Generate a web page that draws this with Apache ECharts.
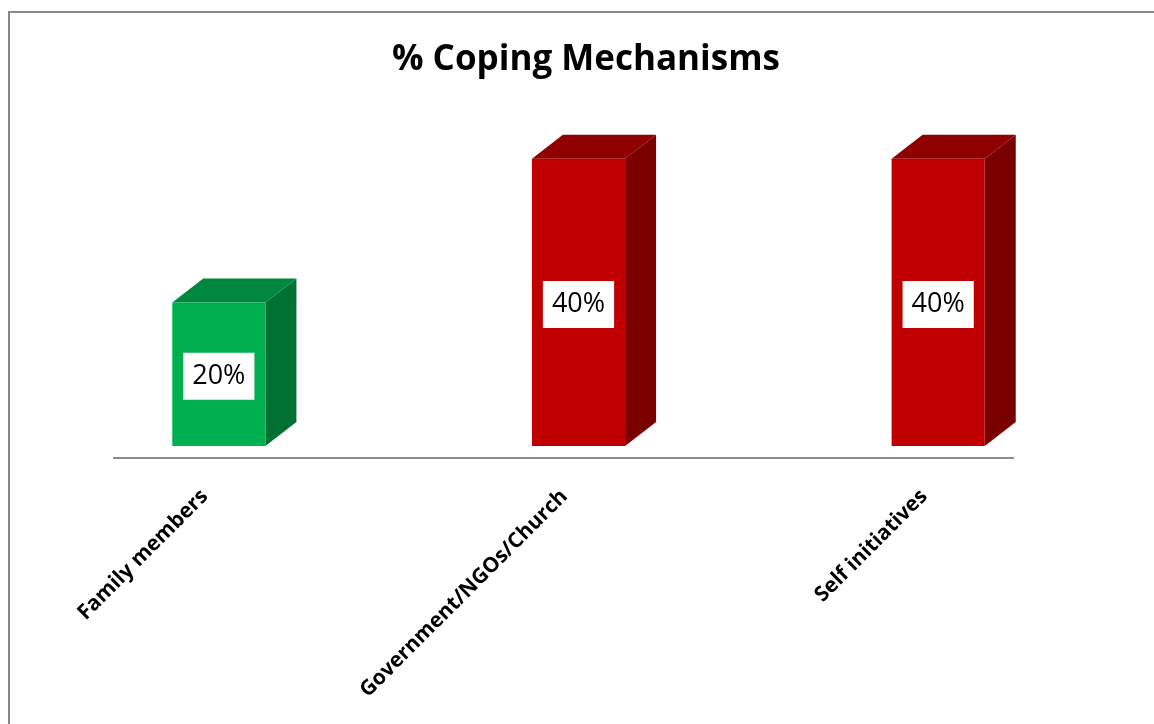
<!DOCTYPE html>
<html>
<head>
<meta charset="utf-8">
<script src="https://cdn.jsdelivr.net/npm/echarts@6/dist/echarts.min.js"></script>
<style>
  html, body { margin: 0; padding: 0; background: #fff; }
  #chart { width: 1154px; height: 724px; }
</style>
</head>
<body>
<div id="chart"></div>
<script>
// categories and values (%)
const categories = ['Family members', 'Government/NGOs/Church', 'Self initiatives'];
const values = [20, 40, 40];
const labels = ['20%', '40%', '40%'];

// front / top / side shades for each bar
const barColors = [
  { front: '#00B050', top: '#00893E', side: '#007033' },
  { front: '#C00000', top: '#900000', side: '#7A0000' },
  { front: '#C00000', top: '#900000', side: '#7A0000' }
];

const depthX = 31;
const depthY = 24;

let myChart = echarts.init(document.getElementById('chart'));

let option = {
  backgroundColor: '#fff',
  animation: false,
  title: {
    text: '% Coping Mechanisms',
    left: 387,
    top: 38,
    textStyle: {
      fontFamily: 'Open Sans',
      fontWeight: 'bold',
      fontSize: 35,
      color: '#000'
    }
  },
  grid: {
    left: 39,
    right: 36,
    top: 87,
    bottom: 278
  },
  xAxis: {
    type: 'category',
    data: categories,
    axisLine: { show: false },
    axisTick: { show: false },
    axisLabel: {
      rotate: 45,
      interval: 0,
      margin: 33,
      padding: [0, 20, 0, 0],
      fontFamily: 'Open Sans',
      fontWeight: 'bold',
      fontSize: 21,
      color: '#000'
    }
  },
  yAxis: {
    type: 'value',
    min: 0,
    max: 50,
    show: false,
    splitLine: { show: false }
  },
  graphic: [
    {
      type: 'rect',
      shape: { x: 9, y: 12, width: 1300, height: 900 },
      style: { fill: 'none', stroke: '#878787', lineWidth: 2 },
      silent: true
    },
    {
      type: 'line',
      shape: { x1: 113, y1: 458, x2: 1014, y2: 458 },
      style: { stroke: '#8c8c8c', lineWidth: 2 },
      silent: true
    }
  ],
  series: [
    {
      type: 'custom',
      data: values.map((v, i) => [i, v]),
      renderItem: function (params, api) {
        let idx = api.value(0);
        let base = api.coord([idx, 0]);
        let top = api.coord([idx, api.value(1)]);
        let w = api.size([1, 0])[0] * 0.259;
        let x0 = base[0] - w / 2;
        let x1 = base[0] + w / 2;
        let yb = base[1];
        let yt = top[1];
        let c = barColors[params.dataIndex];
        return {
          type: 'group',
          children: [
            {
              type: 'polygon',
              shape: { points: [[x1, yt], [x1 + depthX, yt - depthY], [x1 + depthX, yb - depthY], [x1, yb]] },
              style: { fill: c.side }
            },
            {
              type: 'polygon',
              shape: { points: [[x0, yt], [x0 + depthX, yt - depthY], [x1 + depthX, yt - depthY], [x1, yt]] },
              style: { fill: c.top }
            },
            {
              type: 'rect',
              shape: { x: x0, y: yt, width: w, height: yb - yt },
              style: { fill: c.front }
            },
            {
              type: 'text',
              x: (x0 + x1) / 2,
              y: (yt + yb) / 2 + 2,
              style: {
                text: labels[params.dataIndex],
                align: 'center',
                verticalAlign: 'middle',
                fontFamily: 'Open Sans',
                fontSize: 27,
                lineHeight: 33,
                fill: '#000',
                backgroundColor: '#fff',
                padding: [7, 9]
              }
            }
          ]
        };
      }
    }
  ]
};

myChart.setOption(option, true);
</script>
</body>
</html>
